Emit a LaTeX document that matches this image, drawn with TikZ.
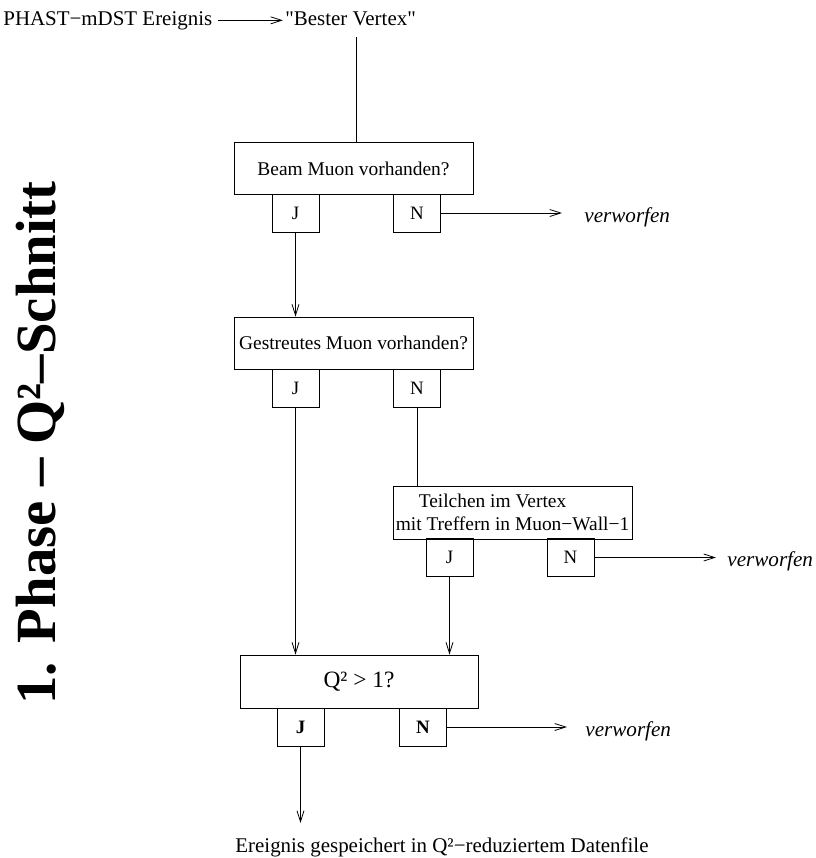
\documentclass[tikz,border=0pt]{standalone}
\usepackage{fontspec}
\setmainfont{Liberation Serif}
\newfontfamily\rohfont{Liberation Serif}
\usetikzlibrary{arrows.meta, calc}

\begin{document}
\begin{tikzpicture}[x=1bp, y=-1bp, line width=0.8bp,
    >={Straight Barb[length=11bp, width=7bp]},
    frage/.style={draw, minimum width=239bp, minimum height=52bp, inner sep=1bp,
        font=\fontsize{19.5}{23}\selectfont},
    antwort/.style={draw, minimum width=47bp, minimum height=38bp, inner sep=0pt,
        font=\fontsize{19}{22}\selectfont},
    txt/.style={anchor=base west, inner sep=0pt, font=\fontsize{21}{25}\selectfont},
    verw/.style={txt, font=\fontsize{21.2}{25}\selectfont\itshape}]

\useasboundingbox (0,0) rectangle (816,858);

% === Titel ===
\node[rotate=90, anchor=base west, inner sep=0pt, font=\fontsize{57}{66}\selectfont\bfseries]
    (titel) at (55,705) {1. Phase – Q²–Schnitt};

% === Eingang ===
\node[txt] (ereignis) at (3,25) {PHAST−mDST Ereignis};
\node[txt] (vertex) at (285,25) {\rohfont "Bester Vertex"};
\draw[->] ($(ereignis.east)+(5,0)$) -- ($(ereignis.east -| vertex.west)+(-2,0)$);
\coordinate (oben) at (356,37);

% === Beam Muon ===
\node[frage] (beam) at (353.5,168.5) {Beam Muon vorhanden?};
\node[antwort] (j1) at (295.5,213) {J};
\node[antwort] (n1) at (417,213) {N};
\draw (oben) -- (oben |- beam.north);
\coordinate (w1) at (562,213);
\node[verw] (v1) at (584,222) {verworfen};
\draw[->] (n1) -- (w1);

% === Gestreutes Muon ===
\node[frage] (gestr) at (353.5,343) {Gestreutes Muon vorhanden?};
\node[antwort] (j2) at (295.5,388) {J};
\node[antwort] (n2) at (417,388) {N};
\draw[->] (j1) -- (j1 |- gestr.north);

% === Muon-Wall-1 ===
\node[frage, align=left, minimum height=53bp] (teil) at (512.5,512.5)
    {\hspace*{23bp}Teilchen im Vertex\\mit Treffern in Muon−Wall−1};
\node[antwort] (j3) at (449.5,557.5) {J};
\node[antwort] (n3) at (570.5,557.5) {N};
\draw (n2) -- (n2 |- teil.north);
\coordinate (w3) at (716,557.5);
\node[verw] (v3) at (727,566.5) {verworfen};
\draw[->] (n3) -- (w3);

% === Q^2 Schnitt ===
\node[frage, minimum width=238bp, minimum height=53bp, font=\fontsize{23.5}{28}\selectfont]
    (q) at (359,681.5) {Q² > 1?};
\node[antwort, font=\fontsize{19}{22}\selectfont\bfseries] (jq) at (300.5,727) {J};
\node[antwort, font=\fontsize{19}{22}\selectfont\bfseries] (nq) at (423,727) {N};
\draw[->] (j2) -- (j2 |- q.north);
\draw[->] (j3) -- (j3 |- q.north);
\coordinate (wq) at (567,727);
\node[verw] (vq) at (585,736) {verworfen};
\draw[->] (nq) -- (wq);

% === Ausgang ===
\coordinate (ende) at (300.5,823);
\draw[->] (jq) -- (ende);
\node[txt] (datei) at (235,852) {Ereignis gespeichert in Q²−reduziertem Datenfile};

\end{tikzpicture}
\end{document}
